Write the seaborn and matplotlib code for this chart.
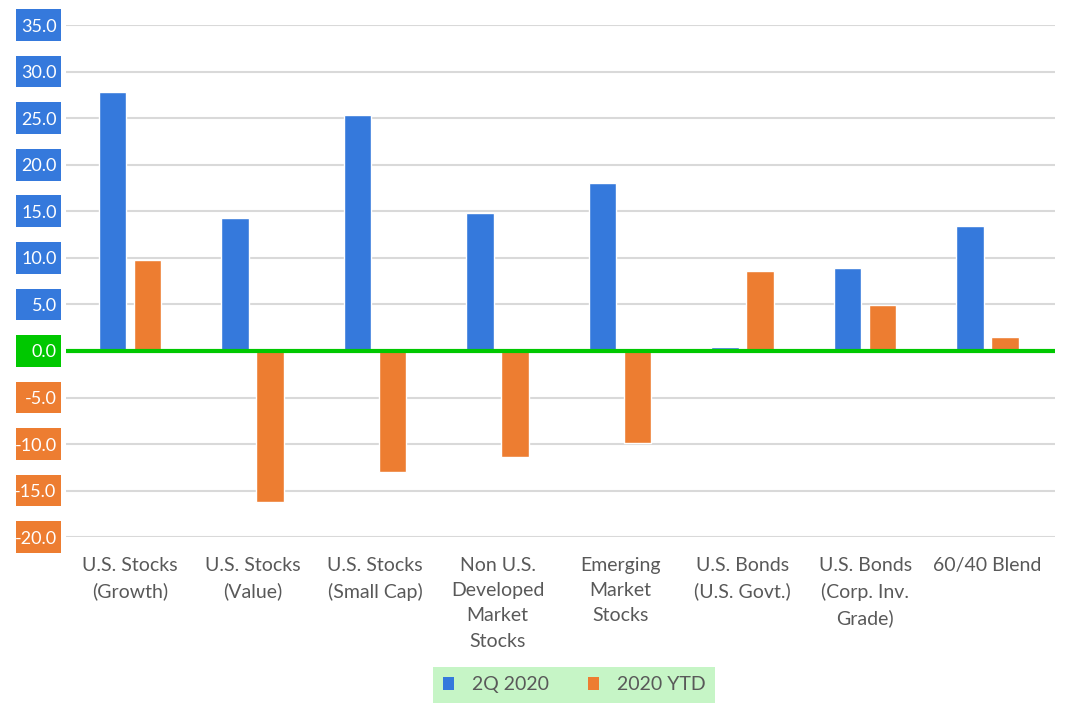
import pandas as pd
import matplotlib.pyplot as plt
import matplotlib.transforms as mtransforms
from matplotlib.patches import Rectangle
import seaborn as sns

## Data ##
categories = ['U.S. Stocks\n(Growth)', 'U.S. Stocks\n(Value)', 'U.S. Stocks\n(Small Cap)',
              'Non U.S.\nDeveloped\nMarket\nStocks', 'Emerging\nMarket\nStocks',
              'U.S. Bonds\n(U.S. Govt.)', 'U.S. Bonds\n(Corp. Inv.\nGrade)', '60/40 Blend']
q2_2020 = [27.8, 14.3, 25.3, 14.8, 18.0, 0.4, 8.9, 13.4]
ytd_2020 = [9.8, -16.2, -13.0, -11.4, -9.9, 8.6, 4.9, 1.5]
series_names = ['2Q 2020', '2020 YTD']
yticks = [35, 30, 25, 20, 15, 10, 5, 0, -5, -10, -15, -20]

blue = '#3579dc'
orange = '#ed7d31'
green = '#00c800'
text_grey = '#595959'

df = pd.DataFrame({
    'category': categories * 2,
    'value': q2_2020 + ytd_2020,
    'series': [series_names[0]] * len(categories) + [series_names[1]] * len(categories),
})

sns.set_style('white')
plt.rcParams['font.family'] = ['Lato', 'DejaVu Sans']

fig = plt.figure(figsize=(10.7, 7.05), dpi=100)
ax = fig.add_axes([0.062, 0.238, 0.924, 0.7265])

sns.barplot(data=df, x='category', y='value', hue='series',
            palette=[blue, orange], saturation=1, width=0.57, gap=0.21,
            ax=ax, legend=False, zorder=3)

# Axis range and grid
ax.set_ylim(-20, 35)
ax.set_xlim(-0.52, len(categories) - 0.45)
ax.set_yticks(yticks)
ax.set_yticklabels([f'{t:.1f}' for t in yticks])
ax.yaxis.grid(True, color='#d9d9d9', lw=1.5)
ax.axhline(0, color=green, lw=3, zorder=4)
sns.despine(ax=ax, left=True, bottom=True, top=True, right=True)
ax.set_xlabel('')
ax.set_ylabel('')

# Tick label styling
ax.tick_params(axis='y', length=0, pad=7, labelsize=13, labelcolor='white')
ax.tick_params(axis='x', length=0, pad=14, labelsize=14, labelcolor=text_grey)
for lbl in ax.get_xticklabels():
    lbl.set_linespacing(1.6)

# Coloured boxes behind the y tick labels (below the axis artists)
trans = mtransforms.blended_transform_factory(ax.transAxes, ax.transData)
for t in yticks:
    box_color = blue if t > 0 else (green if t == 0 else orange)
    ax.add_patch(Rectangle((-0.0505, t - 1.7), 0.0455, 3.4, transform=trans,
                           facecolor=box_color, edgecolor='none',
                           clip_on=False, zorder=0.1))

# Legend
handles = [Rectangle((0, 0), 1, 1, facecolor=blue, edgecolor='none'),
           Rectangle((0, 0), 1, 1, facecolor=orange, edgecolor='none')]
leg = fig.legend(handles, series_names, loc='lower center',
                 bbox_to_anchor=(574 / 1070, 0.0), ncol=2, frameon=True,
                 facecolor='#c6f5c6', edgecolor='none', fancybox=False,
                 fontsize=14, handlelength=0.6, handleheight=0.6,
                 columnspacing=2.0, borderpad=0.5, handletextpad=0.9,
                 borderaxespad=0.1)
for txt in leg.get_texts():
    txt.set_color(text_grey)
leg.get_frame().set_alpha(1)

fig.savefig('out.png', dpi=100)
